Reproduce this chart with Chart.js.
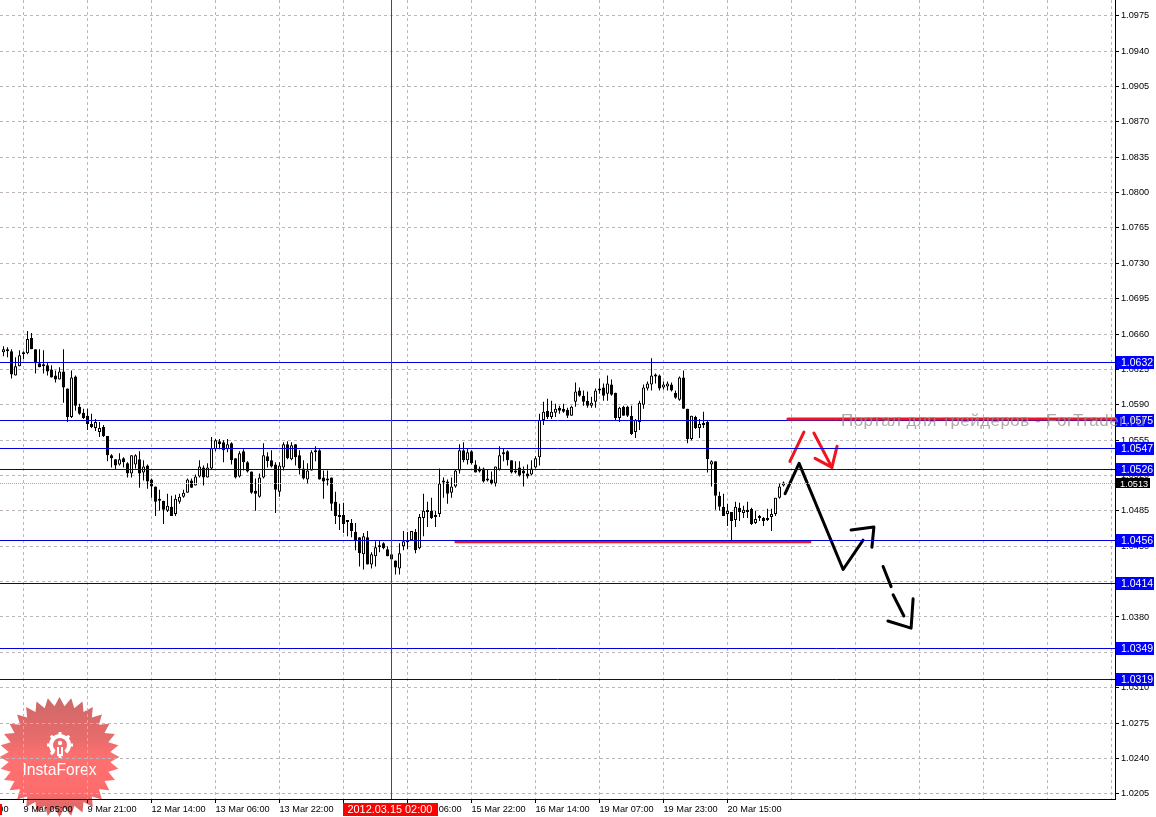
<!DOCTYPE html>
<html>
<head>
<meta charset="utf-8">
<title>EUR H1</title>
<script src="https://cdn.jsdelivr.net/npm/chart.js@4/dist/chart.umd.min.js"></script>
<style>
  html, body { margin: 0; padding: 0; background: #fff; }
  canvas { display: block; }
</style>
</head>
<body>
<canvas id="priceChart" width="1156" height="817"></canvas>
<script>
// ─── Data ─────────────────────────────────────────────────────────────────────

const opens = [
  1.0642,1.0645,1.0643,1.0619,1.0628,1.0640,1.0641,1.0656,1.0645,1.0631,
  1.0630,1.0629,1.0625,1.0619,1.0615,1.0623,1.0606,1.0578,1.0618,1.0588,
  1.0582,1.0579,1.0571,1.0567,1.0563,1.0568,1.0559,1.0540,1.0536,1.0531,
  1.0537,1.0532,1.0522,1.0531,1.0536,1.0523,1.0530,1.0516,1.0509,1.0495,
  1.0495,1.0485,1.0489,1.0482,1.0494,1.0499,1.0503,1.0515,1.0510,1.0519,
  1.0528,1.0518,1.0527,1.0546,1.0554,1.0553,1.0546,1.0552,1.0537,1.0519,
  1.0544,1.0533,1.0524,1.0505,1.0499,1.0518,1.0539,1.0535,1.0531,1.0504,
  1.0528,1.0551,1.0536,1.0551,1.0540,1.0527,1.0516,1.0525,1.0543,1.0545,
  1.0518,1.0517,1.0518,1.0494,1.0481,1.0481,1.0474,1.0473,1.0464,1.0459,
  1.0442,1.0459,1.0432,1.0440,1.0449,1.0453,1.0447,1.0442,1.0436,1.0428,
  1.0450,1.0456,1.0456,1.0464,1.0448,1.0478,1.0486,1.0485,1.0479,1.0482,
  1.0513,1.0514,1.0503,1.0509,1.0525,1.0545,1.0535,1.0544,1.0531,1.0527,
  1.0527,1.0517,1.0516,1.0512,1.0526,1.0541,1.0544,1.0535,1.0523,1.0528,
  1.0525,1.0522,1.0521,1.0528,1.0538,1.0575,1.0584,1.0578,1.0582,1.0587,
  1.0586,1.0585,1.0579,1.0593,1.0604,1.0599,1.0594,1.0589,1.0593,1.0604,
  1.0607,1.0601,1.0610,1.0602,1.0577,1.0588,1.0588,1.0579,1.0563,1.0573,
  1.0590,1.0606,1.0610,1.0618,1.0619,1.0607,1.0608,1.0610,1.0602,1.0595,
  1.0617,1.0586,1.0556,1.0578,1.0567,1.0570,1.0573,1.0531,1.0534,1.0500,
  1.0489,1.0482,1.0484,1.0476,1.0488,1.0483,1.0486,1.0487,1.0473,1.0479,
  1.0478,1.0476,1.0479,1.0482,1.0498,1.0510
];
const highs = [
  1.0648,1.0647,1.0645,1.0637,1.0644,1.0643,1.0663,1.0661,1.0645,1.0645,
  1.0644,1.0632,1.0629,1.0624,1.0627,1.0645,1.0606,1.0624,1.0619,1.0591,
  1.0586,1.0586,1.0581,1.0576,1.0573,1.0570,1.0559,1.0541,1.0536,1.0542,
  1.0538,1.0533,1.0540,1.0541,1.0544,1.0535,1.0531,1.0517,1.0509,1.0506,
  1.0495,1.0502,1.0500,1.0501,1.0502,1.0506,1.0517,1.0517,1.0521,1.0535,
  1.0530,1.0532,1.0558,1.0556,1.0556,1.0555,1.0556,1.0553,1.0537,1.0544,
  1.0546,1.0534,1.0524,1.0517,1.0522,1.0552,1.0543,1.0545,1.0533,1.0533,
  1.0553,1.0554,1.0553,1.0551,1.0545,1.0535,1.0532,1.0545,1.0549,1.0546,
  1.0525,1.0525,1.0518,1.0504,1.0492,1.0493,1.0476,1.0477,1.0473,1.0459,
  1.0463,1.0465,1.0444,1.0455,1.0456,1.0454,1.0450,1.0442,1.0436,1.0453,
  1.0465,1.0464,1.0465,1.0467,1.0482,1.0502,1.0494,1.0498,1.0485,1.0527,
  1.0518,1.0516,1.0518,1.0526,1.0551,1.0553,1.0547,1.0545,1.0535,1.0529,
  1.0528,1.0526,1.0524,1.0529,1.0549,1.0547,1.0545,1.0535,1.0534,1.0534,
  1.0529,1.0531,1.0535,1.0539,1.0581,1.0593,1.0596,1.0594,1.0591,1.0589,
  1.0591,1.0587,1.0589,1.0612,1.0607,1.0604,1.0603,1.0598,1.0606,1.0616,
  1.0611,1.0619,1.0615,1.0602,1.0588,1.0589,1.0589,1.0589,1.0576,1.0594,
  1.0610,1.0613,1.0636,1.0621,1.0620,1.0613,1.0613,1.0612,1.0604,1.0618,
  1.0624,1.0586,1.0579,1.0579,1.0576,1.0583,1.0574,1.0535,1.0534,1.0504,
  1.0502,1.0492,1.0484,1.0494,1.0493,1.0490,1.0494,1.0488,1.0485,1.0481,
  1.0479,1.0487,1.0487,1.0498,1.0512,1.0514
];
const lows = [
  1.0638,1.0637,1.0616,1.0619,1.0628,1.0635,1.0640,1.0645,1.0621,1.0627,
  1.0621,1.0619,1.0617,1.0612,1.0615,1.0592,1.0573,1.0577,1.0584,1.0580,
  1.0576,1.0565,1.0567,1.0564,1.0558,1.0558,1.0534,1.0528,1.0526,1.0530,
  1.0528,1.0518,1.0518,1.0527,1.0508,1.0515,1.0507,1.0498,1.0480,1.0485,
  1.0472,1.0484,1.0480,1.0480,1.0492,1.0498,1.0503,1.0508,1.0510,1.0518,
  1.0510,1.0518,1.0526,1.0544,1.0546,1.0533,1.0543,1.0531,1.0517,1.0518,
  1.0525,1.0523,1.0502,1.0485,1.0498,1.0517,1.0528,1.0528,1.0483,1.0499,
  1.0525,1.0536,1.0535,1.0530,1.0521,1.0516,1.0512,1.0525,1.0534,1.0516,
  1.0497,1.0510,1.0485,1.0472,1.0466,1.0463,1.0460,1.0459,1.0446,1.0430,
  1.0427,1.0432,1.0428,1.0430,1.0444,1.0447,1.0440,1.0437,1.0422,1.0422,
  1.0446,1.0447,1.0456,1.0443,1.0447,1.0460,1.0469,1.0477,1.0469,1.0479,
  1.0498,1.0492,1.0498,1.0508,1.0522,1.0533,1.0531,1.0531,1.0523,1.0523,
  1.0513,1.0514,1.0511,1.0509,1.0525,1.0534,1.0530,1.0522,1.0522,1.0519,
  1.0509,1.0517,1.0520,1.0527,1.0530,1.0570,1.0576,1.0576,1.0578,1.0581,
  1.0582,1.0577,1.0579,1.0588,1.0598,1.0589,1.0587,1.0587,1.0587,1.0601,
  1.0594,1.0594,1.0599,1.0574,1.0573,1.0579,1.0578,1.0560,1.0557,1.0565,
  1.0586,1.0604,1.0604,1.0611,1.0604,1.0605,1.0604,1.0603,1.0596,1.0594,
  1.0586,1.0552,1.0555,1.0566,1.0557,1.0567,1.0523,1.0509,1.0486,1.0485,
  1.0480,1.0470,1.0456,1.0469,1.0475,1.0478,1.0478,1.0471,1.0472,1.0475,
  1.0470,1.0475,1.0465,1.0480,1.0497,1.0509
];
const closes = [
  1.0645,1.0643,1.0620,1.0628,1.0639,1.0642,1.0655,1.0645,1.0631,1.0627,
  1.0628,1.0623,1.0617,1.0615,1.0623,1.0607,1.0578,1.0617,1.0589,1.0581,
  1.0577,1.0571,1.0568,1.0573,1.0567,1.0559,1.0540,1.0537,1.0530,1.0536,
  1.0533,1.0522,1.0540,1.0540,1.0522,1.0529,1.0514,1.0509,1.0494,1.0497,
  1.0486,1.0490,1.0480,1.0497,1.0499,1.0503,1.0516,1.0508,1.0519,1.0529,
  1.0518,1.0528,1.0547,1.0555,1.0551,1.0545,1.0551,1.0535,1.0518,1.0542,
  1.0533,1.0524,1.0503,1.0502,1.0518,1.0540,1.0534,1.0529,1.0506,1.0530,
  1.0551,1.0537,1.0550,1.0538,1.0527,1.0517,1.0525,1.0543,1.0545,1.0516,
  1.0514,1.0515,1.0492,1.0480,1.0479,1.0472,1.0474,1.0465,1.0456,1.0443,
  1.0460,1.0432,1.0442,1.0449,1.0451,1.0448,1.0440,1.0437,1.0429,1.0443,
  1.0455,1.0454,1.0465,1.0446,1.0479,1.0485,1.0484,1.0478,1.0481,1.0512,
  1.0515,1.0502,1.0509,1.0525,1.0545,1.0535,1.0543,1.0532,1.0523,1.0524,
  1.0514,1.0515,1.0512,1.0529,1.0540,1.0543,1.0535,1.0523,1.0525,1.0520,
  1.0522,1.0519,1.0527,1.0537,1.0575,1.0583,1.0578,1.0583,1.0586,1.0584,
  1.0583,1.0579,1.0588,1.0603,1.0599,1.0593,1.0589,1.0592,1.0604,1.0606,
  1.0599,1.0611,1.0600,1.0577,1.0587,1.0579,1.0579,1.0561,1.0575,1.0592,
  1.0607,1.0611,1.0619,1.0620,1.0606,1.0610,1.0611,1.0604,1.0597,1.0617,
  1.0586,1.0556,1.0579,1.0567,1.0571,1.0572,1.0536,1.0534,1.0500,1.0489,
  1.0480,1.0485,1.0475,1.0489,1.0484,1.0486,1.0484,1.0472,1.0477,1.0478,
  1.0475,1.0478,1.0482,1.0498,1.0509,1.0513
];

// bar number of each vertical grid line and the time printed under it
const timeTickBars = [-11,5,21,37,53,69,85,101,117,133,149,165,181,197,213,229,245,261,277];
const timeTickLabels = [
  '8 Mar 13:00','9 Mar 05:00','9 Mar 21:00','12 Mar 14:00','13 Mar 06:00','13 Mar 22:00',
  '14 Mar 14:00','15 Mar 06:00','15 Mar 22:00','16 Mar 14:00','19 Mar 07:00','19 Mar 23:00',
  '20 Mar 15:00','','','','','',''
];
const priceTicks = [
  1.0975,1.0940,1.0905,1.0870,1.0835,1.0800,1.0765,1.0730,1.0695,1.0660,1.0625,1.0590,
  1.0555,1.0520,1.0485,1.0450,1.0415,1.0380,1.0345,1.0310,1.0275,1.0240,1.0205
];

// horizontal levels with their tags on the price axis
const levelPrices = [1.0632, 1.0575, 1.0547, 1.0526, 1.0456, 1.0414, 1.0349, 1.0319];
const levelColors = ['#0000e0', '#0000e0', '#0000e0', '#0000b0', '#0000e0', '#0000b0', '#0000e0', '#0000b0'];
const lastPrice = 1.0513;
const crosshairBar = 97;
const crosshairLabel = '2012.03.15 02:00';

// hand drawn forecast strokes (bar number, price)
const resistanceBars = [196.1, 278],        resistancePrices = [1.0576, 1.0576];
const supportBars = [113.1, 201.6],         supportPrices = [1.04545, 1.04545];
const redUpBars = [196.6, 200.1],           redUpPrices = [1.0534, 1.0563];
const redDownBars = [202.6, 207.1],         redDownPrices = [1.0562, 1.0528];
const redHeadBars = [202.9, 207.1, 208.4],  redHeadPrices = [1.0537, 1.0528, 1.0549];
const swingBars = [195.4, 198.9, 209.9, 214.9],  swingPrices = [1.0502, 1.0532, 1.0427, 1.0456];
const swingHeadBars = [211.9, 217.6, 217.1],     swingHeadPrices = [1.0466, 1.0469, 1.0449];
const dashOneBars = [219.9, 221.9],         dashOnePrices = [1.0430, 1.0410];
const dashTwoBars = [222.4, 225.1],         dashTwoPrices = [1.0402, 1.0381];
const dashHeadBars = [221.1, 226.9, 227.4], dashHeadPrices = [1.0376, 1.0369, 1.0398];

// ─── Datasets ─────────────────────────────────────────────────────────────────

const toPoints = (xs, ys) => xs.map((x, i) => ({ x, y: ys[i] }));

function stroke(xs, ys, color) {
  return {
    type: 'line',
    data: toPoints(xs, ys),
    borderColor: color,
    borderWidth: 3,
    borderCapStyle: 'round',
    borderJoinStyle: 'round',
    pointRadius: 0,
    tension: 0,
    order: 1,
    clip: false,
  };
}

const wicks = {
  type: 'bar',
  data: highs.map((h, i) => ({ x: i, y: [lows[i], h] })),
  backgroundColor: '#000',
  barThickness: 1,
  borderWidth: 0,
  inflateAmount: 0,
  minBarLength: 1,
  grouped: false,
  order: 3,
};

const bodies = {
  type: 'bar',
  data: opens.map((o, i) => ({ x: i, y: [o, closes[i]] })),
  backgroundColor: opens.map((o, i) => (closes[i] >= o ? '#fff' : '#000')),
  borderColor: '#000',
  borderWidth: 1,
  borderSkipped: false,
  barThickness: 3,
  inflateAmount: 0,
  minBarLength: 2,
  grouped: false,
  order: 2,
};

const RED = '#f0141e';
const strokes = [
  stroke(resistanceBars, resistancePrices, RED),
  stroke(supportBars, supportPrices, RED),
  stroke(redUpBars, redUpPrices, RED),
  stroke(redDownBars, redDownPrices, RED),
  stroke(redHeadBars, redHeadPrices, RED),
  stroke(swingBars, swingPrices, '#000'),
  stroke(swingHeadBars, swingHeadPrices, '#000'),
  stroke(dashOneBars, dashOnePrices, '#000'),
  stroke(dashTwoBars, dashTwoPrices, '#000'),
  stroke(dashHeadBars, dashHeadPrices, '#000'),
];

// ─── Overlays ─────────────────────────────────────────────────────────────────

const TAG_FONT = '10.5px "Liberation Sans"';

function drawLevels(chart) {
  const { ctx, chartArea, scales: { x, y } } = chart;
  const crisp = v => Math.round(v) + 0.5;
  ctx.save();
  ctx.lineWidth = 1;

  ctx.strokeStyle = '#a8a8a8';
  ctx.setLineDash([1, 1]);
  ctx.beginPath();
  ctx.moveTo(chartArea.left, crisp(y.getPixelForValue(lastPrice)));
  ctx.lineTo(chartArea.right, crisp(y.getPixelForValue(lastPrice)));
  ctx.stroke();
  ctx.setLineDash([]);

  levelPrices.forEach((price, i) => {
    const py = crisp(y.getPixelForValue(price));
    ctx.strokeStyle = levelColors[i];
    ctx.beginPath();
    ctx.moveTo(chartArea.left, py);
    ctx.lineTo(chartArea.right, py);
    ctx.stroke();
  });

  const cx = crisp(x.getPixelForValue(crosshairBar)) - 1;
  ctx.strokeStyle = '#d4101c';
  ctx.beginPath();
  ctx.moveTo(cx, chartArea.top);
  ctx.lineTo(cx, chartArea.bottom);
  ctx.stroke();
  ctx.restore();
}

function drawTags(chart) {
  const { ctx, chartArea, scales: { x, y } } = chart;
  ctx.save();
  ctx.textBaseline = 'middle';
  ctx.textAlign = 'left';

  levelPrices.forEach(price => {
    const py = Math.round(y.getPixelForValue(price));
    ctx.fillStyle = '#0000ff';
    ctx.fillRect(1116, py - 6, 38, 13);
    ctx.fillStyle = '#fff';
    ctx.font = TAG_FONT;
    ctx.fillText(price.toFixed(4), 1121, py + 1);
  });

  const lastY = Math.round(y.getPixelForValue(lastPrice));
  ctx.fillStyle = '#000';
  ctx.fillRect(1116, lastY - 5, 34, 10);
  ctx.fillStyle = '#fff';
  ctx.font = '9.2px "Liberation Sans"';
  ctx.fillText(lastPrice.toFixed(4), 1120, lastY + 1);

  // crosshair time tag
  const cx = x.getPixelForValue(crosshairBar);
  ctx.fillStyle = '#ff0000';
  ctx.fillRect(cx - 48.5, chartArea.bottom + 4, 95, 13);
  ctx.fillRect(0, chartArea.bottom + 5, 2, 11);
  ctx.fillStyle = '#fff';
  ctx.font = '10.9px "Liberation Sans"';
  ctx.fillText(crosshairLabel, cx - 44, chartArea.bottom + 11);
  ctx.restore();
}

function drawWatermark(chart) {
  const { ctx } = chart;
  ctx.save();
  ctx.font = '17px "Liberation Sans"';
  ctx.letterSpacing = '0.45px';
  ctx.fillStyle = 'rgba(150,140,140,0.75)';
  ctx.textBaseline = 'alphabetic';
  ctx.fillText('Портал для трейдеров - ForTrader.ru', 841, 426);
  ctx.restore();
}

function drawBadge(chart) {
  const { ctx } = chart;
  const cx = 59.5, cy = 757, outer = 60, inner = 51, spikes = 32;
  ctx.save();
  ctx.beginPath();
  for (let i = 0; i < spikes * 2; i++) {
    const r = i % 2 ? inner : outer;
    const a = (i * Math.PI) / spikes - Math.PI / 2;
    ctx[i ? 'lineTo' : 'moveTo'](cx + r * Math.cos(a), cy + r * Math.sin(a));
  }
  ctx.closePath();
  const fade = ctx.createLinearGradient(0, cy - outer, 0, cy + outer);
  fade.addColorStop(0, 'rgb(204,104,104)');
  fade.addColorStop(0.35, 'rgb(232,108,108)');
  fade.addColorStop(0.5, 'rgb(255,112,112)');
  fade.addColorStop(0.78, 'rgb(252,108,108)');
  fade.addColorStop(1, 'rgb(204,104,104)');
  ctx.fillStyle = fade;
  ctx.fill();

  // gear
  const gx = 60, gy = 745;
  ctx.strokeStyle = '#fff';
  ctx.fillStyle = '#fff';
  ctx.lineWidth = 4;
  ctx.beginPath();
  ctx.arc(gx, gy, 9, Math.PI * 0.72, Math.PI * 0.28);
  ctx.stroke();
  ctx.lineWidth = 3;
  for (let i = 0; i < 8; i++) {
    const a = Math.PI * 0.5 + Math.PI / 4 + (i * Math.PI) / 4;
    if (i === 6) continue;
    ctx.beginPath();
    ctx.moveTo(gx + 9 * Math.cos(a), gy + 9 * Math.sin(a));
    ctx.lineTo(gx + 13 * Math.cos(a), gy + 13 * Math.sin(a));
    ctx.stroke();
  }
  ctx.beginPath();
  ctx.arc(gx, gy - 2, 2.2, 0, Math.PI * 2);
  ctx.fill();
  ctx.lineWidth = 2;
  ctx.beginPath();
  ctx.moveTo(gx - 2, gy + 2);
  ctx.lineTo(gx - 2, gy + 11);
  ctx.moveTo(gx + 2, gy + 2);
  ctx.lineTo(gx + 2, gy + 11);
  ctx.stroke();

  ctx.font = '15.7px "Liberation Sans"';
  ctx.textAlign = 'center';
  ctx.textBaseline = 'alphabetic';
  ctx.fillText('InstaForex', cx, 775);
  ctx.restore();
}

const overlays = {
  id: 'overlays',
  beforeDraw(chart) {
    drawBadge(chart);
  },
  beforeDatasetDraw(chart, args) {
    if (args.index === 2) drawLevels(chart);
  },
  afterDraw(chart) {
    drawTags(chart);
    drawWatermark(chart);
  },
};

// ─── Chart ────────────────────────────────────────────────────────────────────

const gridColor = '#bdb4bd';
const tickFont = { family: '"Liberation Sans"', size: 9.2 };

new Chart(document.getElementById('priceChart'), {
  data: { datasets: [wicks, bodies, ...strokes] },
  plugins: [overlays],
  options: {
    responsive: false,
    animation: false,
    events: [],
    layout: { padding: 0 },
    plugins: { legend: { display: false }, tooltip: { enabled: false } },
    scales: {
      x: {
        type: 'linear',
        min: -0.875,
        max: 277.875,
        offset: false,
        grid: {
          color: gridColor,
          tickColor: c => (timeTickLabels[timeTickBars.indexOf(c.tick.value)] ? '#000' : 'transparent'),
          tickLength: 4,
          offset: false,
        },
        border: { color: '#000', dash: [3, 3] },
        ticks: {
          autoSkip: false,
          maxRotation: 0,
          align: 'start',
          padding: 1,
          color: '#000',
          font: tickFont,
          callback: v => timeTickLabels[timeTickBars.indexOf(v)],
        },
        afterBuildTicks: s => { s.ticks = timeTickBars.map(value => ({ value })); },
        afterFit: s => { s.height = 18; s.paddingLeft = 0; s.paddingRight = 0; },
      },
      y: {
        type: 'linear',
        position: 'right',
        min: 1.01999,
        max: 1.09905,
        grid: { color: gridColor, tickColor: '#000', tickLength: 4 },
        border: { color: '#000', dash: [3, 3] },
        ticks: {
          autoSkip: false,
          padding: 2,
          color: '#000',
          font: tickFont,
          callback: v => v.toFixed(4),
        },
        afterBuildTicks: s => { s.ticks = priceTicks.map(value => ({ value })); },
        afterFit: s => { s.width = 41; s.paddingTop = 0; s.paddingBottom = 0; },
      },
    },
  },
});
</script>
</body>
</html>
